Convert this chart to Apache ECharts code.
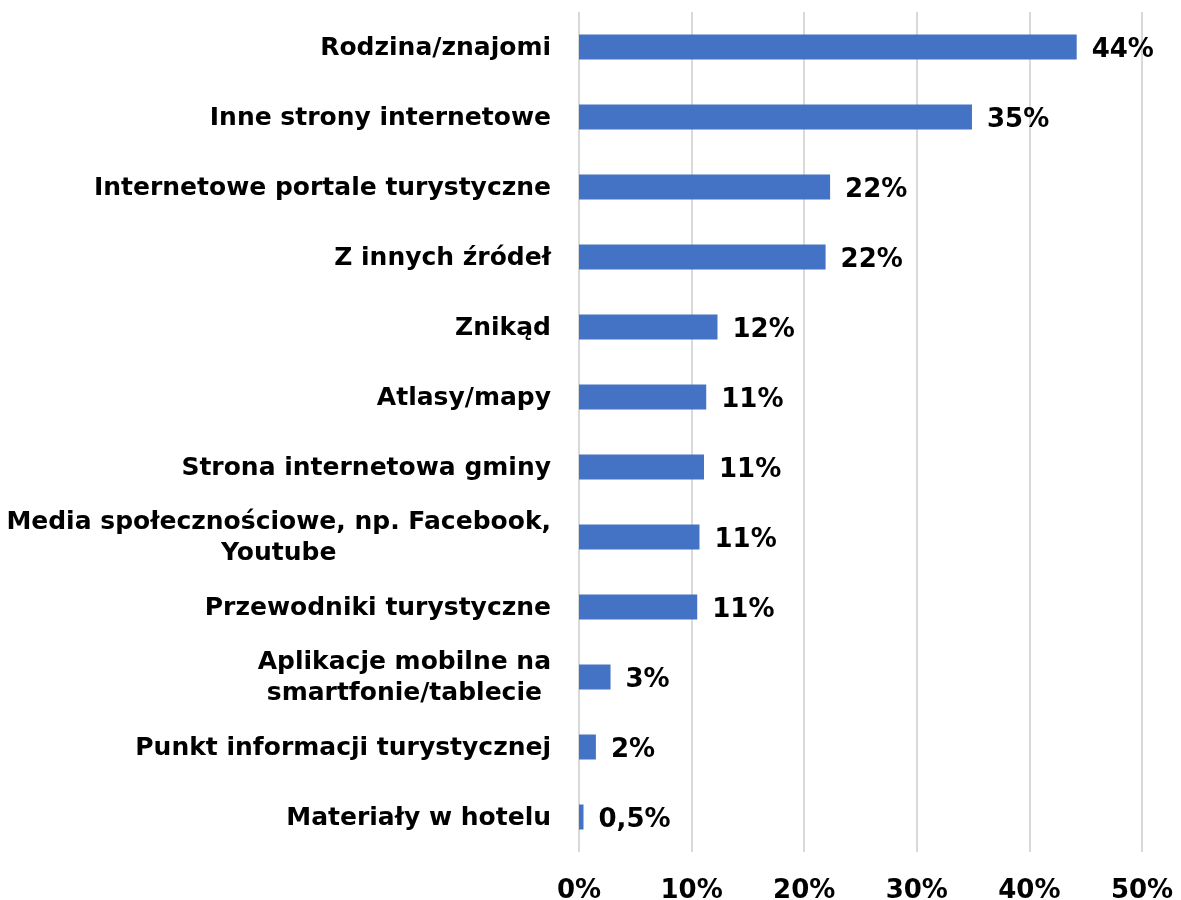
<!DOCTYPE html>
<html>
<head>
<meta charset="utf-8">
<script src="https://cdn.jsdelivr.net/npm/echarts@6/dist/echarts.min.js"></script>
<style>
  html, body { margin: 0; padding: 0; background: #fff; }
  #chart { width: 1181px; height: 900px; }
</style>
</head>
<body>
<div id="chart"></div>
<script>
// kategorie od góry do dołu
const categories = [
  'Rodzina/znajomi',
  'Inne strony internetowe',
  'Internetowe portale turystyczne',
  'Z innych źródeł',
  'Znikąd',
  'Atlasy/mapy',
  'Strona internetowa gminy',
  'Media społecznościowe, np. Facebook,\nYoutube',
  'Przewodniki turystyczne',
  'Aplikacje mobilne na\nsmartfonie/tablecie',
  'Punkt informacji turystycznej',
  'Materiały w hotelu'
]
// długość słupków (%)
const values = [44.2, 34.9, 22.3, 21.9, 12.3, 11.3, 11.1, 10.7, 10.5, 2.8, 1.5, 0.4]
// etykiety przy słupkach
const valueLabels = ['44%', '35%', '22%', '22%', '12%', '11%', '11%', '11%', '11%', '3%', '2%', '0,5%']
const tickLabels = ['0%', '10%', '20%', '30%', '40%', '50%']

const FONT = '"DejaVu Sans", Verdana, sans-serif'

// wielolinijkowe etykiety wyśrodkowane jak w Excelu
function catLabel(txt) {
  let lines = txt.split('\n')
  if (lines.length === 1) return txt
  return lines.map(l => '{c|' + l + '}').join('\n')
}

const chart = echarts.init(document.getElementById('chart'))

const option = {
  backgroundColor: '#ffffff',
  animation: false,
  grid: {
    left: 579,
    right: 39,
    top: 12,
    bottom: 48,
    containLabel: false,
    outerBoundsMode: 'none'
  },
  xAxis: {
    type: 'value',
    min: 0,
    max: 50,
    interval: 10,
    axisLine: { show: false },
    axisTick: { show: false },
    splitLine: { lineStyle: { color: '#d9d9d9', width: 2 } },
    axisLabel: {
      margin: 26,
      color: '#000',
      fontFamily: FONT,
      fontWeight: 'bold',
      fontSize: 26,
      formatter: (v) => tickLabels[Math.round(v / 10)]
    }
  },
  yAxis: {
    type: 'category',
    inverse: true,
    data: categories,
    axisLine: { show: false },
    axisTick: { show: false },
    axisLabel: {
      margin: 28,
      color: '#000',
      fontFamily: FONT,
      fontWeight: 'bold',
      fontSize: 25,
      lineHeight: 31,
      padding: [2, 0, 0, 0],
      formatter: catLabel,
      rich: {
        c: {
          align: 'center',
          color: '#000',
          fontFamily: FONT,
          fontWeight: 'bold',
          fontSize: 25,
          lineHeight: 31
        }
      }
    }
  },
  series: [{
    type: 'bar',
    data: values,
    barWidth: 25,
    itemStyle: { color: '#4472C4' },
    label: {
      show: true,
      position: 'right',
      distance: 15,
      offset: [0, 3],
      color: '#000',
      fontFamily: FONT,
      fontWeight: 'bold',
      fontSize: 26,
      formatter: (p) => valueLabels[p.dataIndex]
    }
  }]
}

chart.setOption(option)
</script>
</body>
</html>
